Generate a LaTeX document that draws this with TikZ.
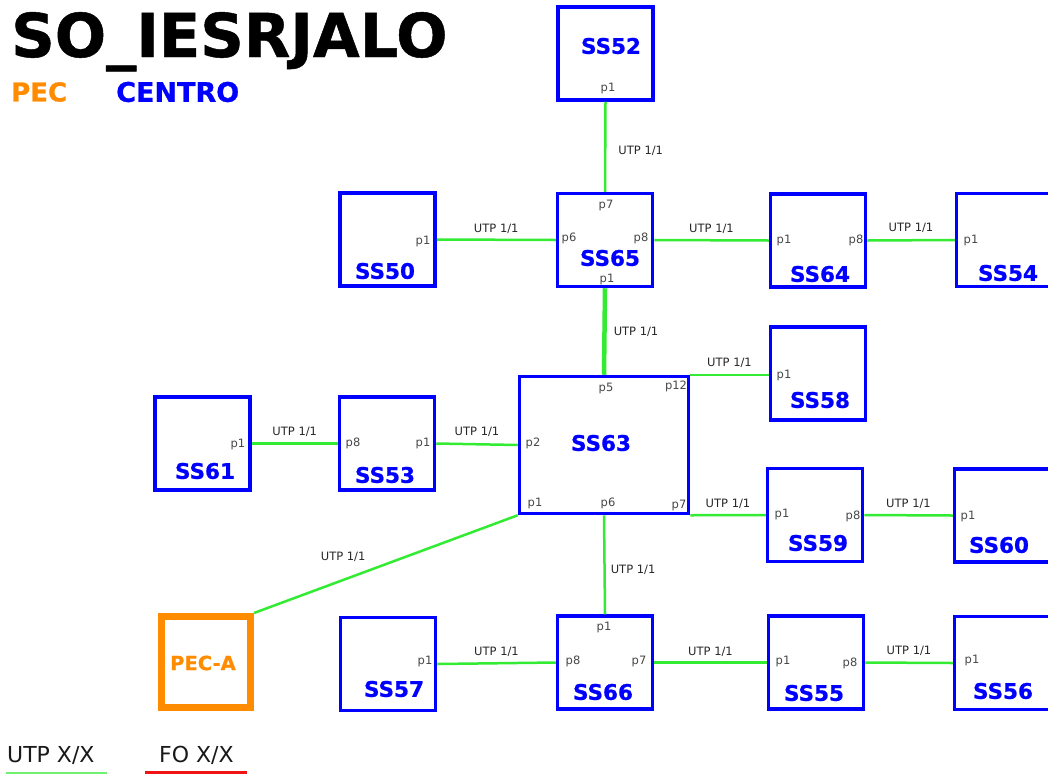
\documentclass[tikz,border=0pt]{standalone}
\usepackage{fontspec}
\setmainfont{DejaVu Sans}
\newfontfamily\heavyfont{DejaVu Sans Bold}[FakeBold=0.8]
\definecolor{boxblue}{RGB}{0,0,255}
\definecolor{pecorange}{RGB}{255,140,0}
\definecolor{linkgreen}{RGB}{50,235,50}
\definecolor{portgray}{RGB}{70,70,70}
\definecolor{legred}{RGB}{240,20,20}
\tikzset{
  sbox/.style={draw=boxblue, line width=3.5pt, minimum width=95pt, minimum height=93pt, inner sep=0pt},
  pecbox/.style={draw=pecorange, line width=7pt, minimum width=89pt, minimum height=91pt, inner sep=0pt},
  sname/.style={text=boxblue, font=\heavyfont\fontsize{21.5}{21.5}\selectfont, inner sep=0pt},
  port/.style={text=portgray, font=\fontsize{11.5}{11.5}\selectfont, inner sep=0pt},
  link/.style={draw=linkgreen, line width=2.5pt},
  utp/.style={text=black!85, font=\fontsize{11.5}{11.5}\selectfont, inner sep=0pt},
}
\begin{document}
\begin{tikzpicture}[x=1pt,y=-1pt]
\useasboundingbox (0,0) rectangle (1048,774);
\clip (0,0) rectangle (1048,774);
% title and header
\node[anchor=base west, inner sep=0pt, font=\heavyfont\fontsize{60.5}{60.5}\selectfont] (title) at (11,57) {SO\_IESRJALO};
\node[anchor=west, inner sep=0pt, text=pecorange, font=\heavyfont\fontsize{26}{26}\selectfont] (hpec) at (11,92) {PEC};
\node[anchor=west, inner sep=0pt, text=boxblue, font=\heavyfont\fontsize{27}{27}\selectfont] (hcentro) at (116,92) {CENTRO};
% boxes
\node[sbox] (ss52) at (605.5,53.5) {};
\node[sbox] (ss65) at (605,240) {};
\node[sbox] (ss50) at (387.5,239.5) {};
\node[sbox] (ss64) at (818,240.5) {};
\node[sbox] (ss54) at (1004,240) {};
\node[sbox] (ss58) at (818,373.5) {};
\node[sbox, minimum width=169pt, minimum height=137pt] (ss63) at (604,445) {};
\node[sbox] (ss61) at (202.5,443.5) {};
\node[sbox] (ss53) at (387,443.5) {};
\node[sbox] (ss59) at (815,515) {};
\node[sbox] (ss60) at (1002,515.5) {};
\node[pecbox] (peca) at (206,662) {};
\node[sbox] (ss57) at (388,664) {};
\node[sbox] (ss66) at (605,662.5) {};
\node[sbox] (ss55) at (816,662.5) {};
\node[sbox] (ss56) at (1002,663) {};
% box names
\node[sname] (n52) at (611,46) {SS52};
\node[sname] (n65) at (610,258) {SS65};
\node[sname] (n50) at (385,271) {SS50};
\node[sname] (n64) at (820,274) {SS64};
\node[sname] (n54) at (1008,273) {SS54};
\node[sname] (n58) at (820,400) {SS58};
\node[sname] (n63) at (601,443) {SS63};
\node[sname] (n61) at (205,471) {SS61};
\node[sname] (n53) at (385,475) {SS53};
\node[sname] (n59) at (818,543) {SS59};
\node[sname] (n60) at (999,545) {SS60};
\node[text=pecorange, font=\heavyfont\fontsize{19.5}{19.5}\selectfont, inner sep=0pt] (npeca) at (203,663) {PEC-A};
\node[sname] (n57) at (394,689) {SS57};
\node[sname] (n66) at (603,692) {SS66};
\node[sname] (n55) at (814,693) {SS55};
\node[sname] (n56) at (1003,691) {SS56};
% ports
\node[port] (p52a) at (608,89) {p1};
\node[port] (p65a) at (606,205) {p7};
\node[port] (p65b) at (569,238) {p6};
\node[port] (p65c) at (641,238) {p8};
\node[port] (p65d) at (607,279) {p1};
\node[port] (p50a) at (423,241) {p1};
\node[port] (p64a) at (784,240) {p1};
\node[port] (p64b) at (856,240) {p8};
\node[port] (p54a) at (971,240) {p1};
\node[port] (p58a) at (784,375) {p1};
\node[port] (p63a) at (606,388) {p5};
\node[port] (p63b) at (676,386) {p12};
\node[port] (p63c) at (533,443) {p2};
\node[port] (p63d) at (535,503) {p1};
\node[port] (p63e) at (608,503) {p6};
\node[port] (p63f) at (679,505) {p7};
\node[port] (p61a) at (238,444) {p1};
\node[port] (p53a) at (353,443) {p8};
\node[port] (p53b) at (423,443) {p1};
\node[port] (p59a) at (782,514) {p1};
\node[port] (p59b) at (853,516) {p8};
\node[port] (p60a) at (968,516) {p1};
\node[port] (p57a) at (425,661) {p1};
\node[port] (p66a) at (604,627) {p1};
\node[port] (p66b) at (573,661) {p8};
\node[port] (p66c) at (639,661) {p7};
\node[port] (p55a) at (783,661) {p1};
\node[port] (p55b) at (850,663) {p8};
\node[port] (p56a) at (972,660) {p1};
% links
\draw[link] (ss52.south) -- node[utp, pos=0.55, right=12pt] (l1) {UTP 1/1} (ss65.north);
\draw[link] (ss50.east) -- node[utp, above=5pt] (l2) {UTP 1/1} (ss65.west);
\draw[link] (ss65.east) -- node[utp, above=5pt] (l3) {UTP 1/1} (ss64.west);
\draw[link] (ss64.east) -- node[utp, above=6pt] (l4) {UTP 1/1} (ss54.west);
\draw[link, line width=4.5pt] (ss65.south) -- node[utp, right=7pt] (l5) {UTP 1/1} (ss63.north);
\draw[link] (ss63.north east) -- node[utp, above=6pt] (l6) {UTP 1/1} (ss63.north east -| ss58.west);
\draw[link] (ss61.east) -- node[utp, above=6pt] (l7) {UTP 1/1} (ss53.west);
\draw[link] (ss53.east) -- node[utp, above=6pt] (l8) {UTP 1/1} (ss63.west);
\draw[link] (ss63.south east) -- node[utp, above=5pt] (l9) {UTP 1/1} (ss59.west);
\draw[link] (ss59.east) -- node[utp, above=5pt] (l10) {UTP 1/1} (ss60.west);
\draw[link] (ss63.south west) -- node[utp, pos=0.55, above left=6pt] (l11) {UTP 1/1} (peca.north east);
\draw[link] (ss63.south) -- node[utp, pos=0.55, right=5pt] (l12) {UTP 1/1} (ss66.north);
\draw[link] (ss57.east) -- node[utp, above=5pt] (l13) {UTP 1/1} (ss66.west);
\draw[link] (ss66.east) -- node[utp, above=5pt] (l14) {UTP 1/1} (ss55.west);
\draw[link] (ss55.east) -- node[utp, above=6pt] (l15) {UTP 1/1} (ss56.west);
% legend
\node[anchor=west, inner sep=0pt, text=black!90, font=\fontsize{22}{22}\selectfont] (legutp) at (7,755) {UTP X/X};
\node[anchor=west, inner sep=0pt, text=black!90, font=\fontsize{22}{22}\selectfont] (legfo) at (159,755) {FO X/X};
\coordinate (ug1) at (6,772.5);
\coordinate (ug2) at (107,772.5);
\coordinate (fr1) at (145,772.5);
\coordinate (fr2) at (247,772.5);
\draw[draw=linkgreen!70, line width=2pt] (ug1) -- (ug2);
\draw[draw=legred, line width=3pt] (fr1) -- (fr2);
\end{tikzpicture}
\end{document}
